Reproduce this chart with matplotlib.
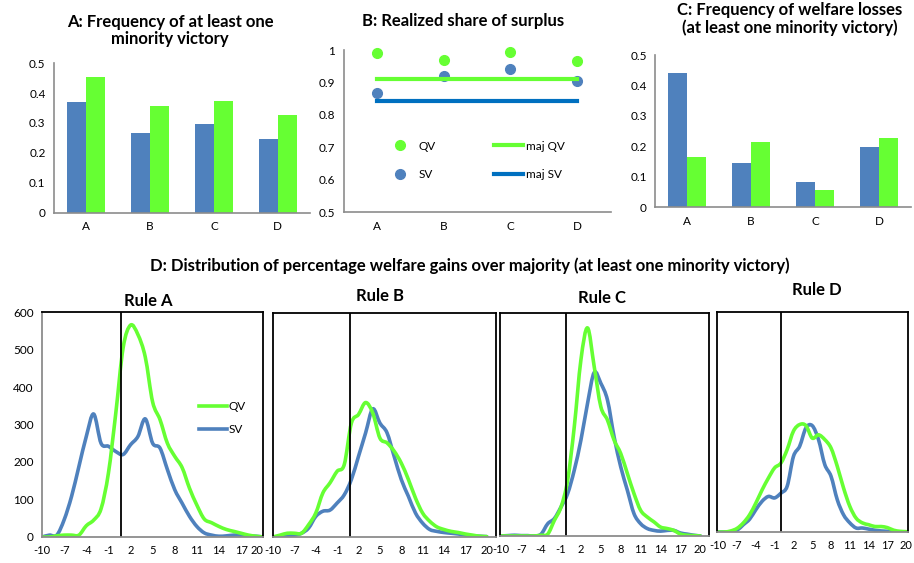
import matplotlib.pyplot as plt
from matplotlib.path import Path
from matplotlib.patches import PathPatch
from matplotlib.lines import Line2D
import numpy as np

plt.rcParams['font.family'] = ['Lato', 'DejaVu Sans']

GREEN = '#66ff33'
BLUE = '#4f81bd'
DARKBLUE = '#0070c0'
GRAY = '#8c8c8c'

rules = ['A', 'B', 'C', 'D']

# panel A: frequency of at least one minority victory
freq_sv = [0.370, 0.265, 0.296, 0.248]
freq_qv = [0.455, 0.355, 0.373, 0.326]

# panel B: realized share of surplus
share_qv = [0.990, 0.968, 0.995, 0.965]
share_sv = [0.868, 0.920, 0.942, 0.905]
maj_qv = 0.910
maj_sv = 0.843

# panel C: frequency of welfare losses
loss_sv = [0.442, 0.146, 0.083, 0.199]
loss_qv = [0.166, 0.216, 0.058, 0.228]

# panel D: distributions of percentage welfare gains
gain = list(range(-10, 21))
dist_qv = {
    'A': [0, 0, 3, 5, 5, 5, 30, 45, 75, 170, 330, 505, 565, 540, 480, 360,
          313, 250, 215, 185, 130, 85, 48, 38, 28, 20, 15, 10, 5, 2, 0],
    'B': [0, 5, 10, 10, 10, 33, 64, 118, 145, 176, 194, 305, 328, 360, 332, 265,
          252, 230, 198, 154, 104, 64, 42, 27, 20, 15, 12, 8, 5, 2, 1],
    'C': [0, 0, 0, 0, 0, 0, 2, 5, 42, 78, 150, 294, 474, 560, 456, 348,
          312, 258, 222, 168, 114, 69, 51, 38, 24, 20, 15, 5, 2, 1, 0],
    'D': [0, 0, 3, 10, 25, 47, 79, 115, 147, 175, 188, 225, 275, 293, 290, 256,
          265, 252, 229, 179, 120, 70, 38, 25, 20, 15, 15, 12, 5, 2, 1],
}
dist_sv = {
    'A': [0, 5, 5, 46, 108, 188, 268, 328, 250, 242, 228, 220, 246, 268, 315, 250,
          237, 180, 126, 90, 55, 28, 11, 5, 2, 3, 5, 5, 3, 2, 0],
    'B': [0, 1, 3, 5, 10, 24, 55, 69, 72, 91, 113, 154, 216, 279, 343, 305,
          279, 216, 154, 109, 64, 37, 20, 15, 12, 10, 8, 5, 3, 2, 1],
    'C': [0, 1, 2, 1, 1, 0, 5, 33, 47, 78, 114, 177, 258, 357, 440, 411,
          366, 267, 186, 123, 60, 33, 20, 15, 13, 15, 15, 8, 5, 2, 0],
    'D': [0, 0, 0, 5, 20, 35, 61, 84, 97, 93, 106, 125, 206, 234, 284, 290,
          252, 184, 152, 88, 47, 25, 11, 11, 8, 5, 3, 2, 0, 0, 0],
}
zero_line = {'A': 0.7, 'B': 0.8, 'C': -0.2, 'D': 0.0}
d_xlim = {'A': (-10, 20), 'B': (-10, 21.3), 'C': (-10.2, 21.3), 'D': (-10.2, 20.3)}


def smooth_line(ax, x, y, color, lw=2.6):
    # excel-like smoothed line: cubic bezier segments through the points
    p = np.column_stack([x, y]).astype(float)
    verts = [p[0]]
    codes = [Path.MOVETO]
    n = len(p)
    for i in range(n - 1):
        p0 = p[i - 1] if i > 0 else p[i]
        p3 = p[i + 2] if i + 2 < n else p[i + 1]
        c1 = p[i] + (p[i + 1] - p0) / 6
        c2 = p[i + 1] - (p3 - p[i]) / 6
        verts += [c1, c2, p[i + 1]]
        codes += [Path.CURVE4] * 3
    ax.add_patch(PathPatch(Path(verts, codes), fill=False, edgecolor=color,
                           lw=lw, capstyle='round', joinstyle='round'))


def excel_axes(ax):
    for s in ['top', 'right']:
        ax.spines[s].set_visible(False)
    for s in ['left', 'bottom']:
        ax.spines[s].set_color(GRAY)
        ax.spines[s].set_linewidth(1.2)
    ax.tick_params(length=0, labelsize=8.5, pad=6)


fig = plt.figure(figsize=(9.14, 5.63), dpi=100)

# ---- A
ax = fig.add_axes([0.059, 0.622, 0.280, 0.266])
idx = np.arange(len(rules))
ax.bar(idx - 0.15, freq_sv, 0.3, color=BLUE)
ax.bar(idx + 0.15, freq_qv, 0.3, color=GREEN)
ax.set_xlim(-0.5, 3.5)
ax.set_ylim(0, 0.5)
ax.set_yticks([0, 0.1, 0.2, 0.3, 0.4, 0.5])
ax.set_yticklabels(['0', '0.1', '0.2', '0.3', '0.4', '0.5'])
ax.set_xticks(idx)
ax.set_xticklabels(rules)
excel_axes(ax)
fig.text(0.186, 0.975, 'A: Frequency of at least one\nminority victory', ha='center',
         va='top', fontsize=12, fontweight='bold', linespacing=1.1)

# ---- B
ax = fig.add_axes([0.376, 0.623, 0.292, 0.288])
ax.plot(idx, share_qv, 'o', color=GREEN, ms=7, label='QV', clip_on=False)
ax.plot(idx, share_sv, 'o', color=BLUE, ms=7, label='SV', clip_on=False)
ax.plot([idx[0], idx[-1]], [maj_qv, maj_qv], color=GREEN, lw=3, label='maj QV')
ax.plot([idx[0], idx[-1]], [maj_sv, maj_sv], color=DARKBLUE, lw=3, label='maj SV')
ax.set_xlim(-0.5, 3.5)
ax.set_ylim(0.5, 1)
ax.set_yticks([0.5, 0.6, 0.7, 0.8, 0.9, 1])
ax.set_yticklabels(['0.5', '0.6', '0.7', '0.8', '0.9', '1'])
ax.set_xticks(idx)
ax.set_xticklabels(rules)
excel_axes(ax)
ax.legend(ncol=2, frameon=False, fontsize=8.5, loc='center left',
          bbox_to_anchor=(0.12, 0.32), columnspacing=5.0, labelspacing=1.5,
          handlelength=2.4, handletextpad=0.3)
fig.text(0.507, 0.962, 'B: Realized share of surplus', ha='center', va='center',
         fontsize=12, fontweight='bold')

# ---- C
ax = fig.add_axes([0.7166, 0.632, 0.280, 0.270])
ax.bar(idx - 0.15, loss_sv, 0.3, color=BLUE)
ax.bar(idx + 0.15, loss_qv, 0.3, color=GREEN)
ax.set_xlim(-0.5, 3.5)
ax.set_ylim(0, 0.5)
ax.set_yticks([0, 0.1, 0.2, 0.3, 0.4, 0.5])
ax.set_yticklabels(['0', '0.1', '0.2', '0.3', '0.4', '0.5'])
ax.set_xticks(idx)
ax.set_xticklabels(rules)
excel_axes(ax)
fig.text(0.864, 0.996, 'C: Frequency of welfare losses\n(at least one minority victory)',
         ha='center', va='top', fontsize=12, fontweight='bold', linespacing=1.1)

# ---- D
fig.text(0.514, 0.528, 'D: Distribution of percentage welfare gains over majority '
         '(at least one minority victory)', ha='center', va='center', fontsize=12,
         fontweight='bold')

d_pos = {'A': [0.046, 0.0462, 0.242, 0.3996],
         'B': [0.2987, 0.0462, 0.244, 0.398],
         'C': [0.547, 0.048, 0.2287, 0.396],
         'D': [0.7845, 0.055, 0.209, 0.391]}
d_title = {'A': (0.162, 0.466), 'B': (0.416, 0.474), 'C': (0.659, 0.471),
           'D': (0.894, 0.485)}

for r in rules:
    ax = fig.add_axes(d_pos[r])
    smooth_line(ax, gain, dist_sv[r], BLUE)
    smooth_line(ax, gain, dist_qv[r], GREEN)
    ax.axvline(zero_line[r], color='black', lw=1.3)
    ax.set_xlim(*d_xlim[r])
    ax.set_ylim(0, 600)
    ax.set_xticks(gain[::3])
    ax.set_xticklabels([str(g) for g in gain[::3]])
    for s in ax.spines.values():
        s.set_color('black')
        s.set_linewidth(1.3)
    ax.spines['bottom'].set_color(GRAY)
    ax.tick_params(length=0, labelsize=8, pad=6)
    ax.tick_params(axis='y', labelsize=8.5)
    if r == 'A':
        ax.set_yticks(range(0, 601, 100))
        ax.spines['left'].set_color(GRAY)
        ax.get_xticklabels()[-1].set_horizontalalignment('right')
        handles = [Line2D([], [], color=GREEN, lw=2.6),
                   Line2D([], [], color=BLUE, lw=2.6)]
        ax.legend(handles, ['QV', 'SV'], frameon=False, fontsize=8.5, loc='center left',
                  bbox_to_anchor=(0.66, 0.53), handlelength=2.4, handletextpad=0.1,
                  labelspacing=1.0)
    else:
        ax.set_yticks([])
    tx, ty = d_title[r]
    fig.text(tx, ty, 'Rule ' + r, ha='center', va='center', fontsize=12,
             fontweight='bold')

plt.savefig('out.png', dpi=100)
